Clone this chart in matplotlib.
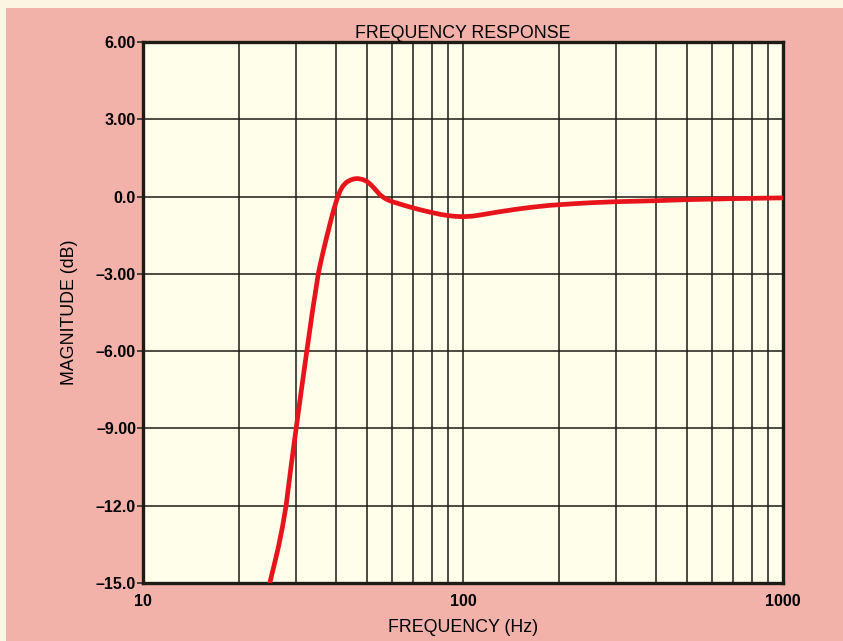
import numpy as np
import matplotlib.pyplot as plt
from matplotlib.patches import Rectangle
from matplotlib.ticker import FixedLocator, NullFormatter

# response curve
freq_hz = [23.8, 24.9, 25.7, 26.5, 27.3, 28.0, 29.0, 30.1, 31.3, 32.5,
           33.9, 34.6, 35.3, 36.0, 36.7, 37.4, 38.1, 38.8, 39.6, 40.5,
           41.3, 42.2, 43.3, 44.5, 45.6, 46.6, 47.4, 48.3, 49.1, 50.0,
           50.9, 51.8, 52.7, 53.7, 54.9, 56.4, 57.6, 59.0, 60.5, 62.0,
           65.5, 69.8, 75.0, 80.0, 85.0, 90.0, 95.0, 100.0, 107.0, 115.0,
           130.0, 147.0, 165.0, 187.0, 220.0, 250.0, 300.0, 400.0, 500.0,
           700.0, 1000.0]
mag_db = [-16.0, -15.0, -14.3, -13.6, -12.8, -12.0, -10.5, -9.0, -7.45, -6.0,
          -4.4, -3.7, -3.0, -2.5, -2.05, -1.63, -1.23, -0.84, -0.44, -0.05,
          0.22, 0.42, 0.56, 0.64, 0.685, 0.70, 0.69, 0.67, 0.64, 0.59,
          0.52, 0.43, 0.33, 0.22, 0.08, -0.03, -0.10, -0.16, -0.21, -0.25,
          -0.34, -0.44, -0.54, -0.62, -0.69, -0.74, -0.77, -0.78, -0.76, -0.70,
          -0.59, -0.49, -0.41, -0.34, -0.28, -0.24, -0.2, -0.16, -0.12,
          -0.08, -0.05]

y_ticks = [-15, -12, -9, -6, -3, 0, 3, 6]
y_labels = ['\u201315.0', '\u201312.0', '\u20139.00', '\u20136.00',
            '\u20133.00', '0.0', '3.00', '6.00']
x_ticks = [10, 100, 1000]
x_labels = ['10', '100', '1000']
x_grid = [20, 30, 40, 50, 60, 70, 80, 90, 200, 300, 400, 500, 600, 700,
          800, 900]

plt.rcParams['font.family'] = ['Liberation Sans', 'DejaVu Sans']

pink = '#f2b2aa'
cream = '#fefeea'
ink = '#1c1c14'

fig = plt.figure(figsize=(8.43, 6.41), dpi=100, facecolor='#fbf6e2')
fig.patches.append(Rectangle((6 / 843, 0), 1, 1 - 8 / 641,
                             transform=fig.transFigure, facecolor=pink,
                             edgecolor='none', zorder=-10))

ax = fig.add_axes([143 / 843, 1 - 583 / 641, 640 / 843, 541 / 641])
ax.set_facecolor(cream)
ax.set_xscale('log')
ax.set_xlim(10, 1000)
ax.set_ylim(-15, 6)

ax.plot(freq_hz, mag_db, color='#e8141c', lw=3.4, solid_capstyle='round',
        solid_joinstyle='round', zorder=3, clip_on=True)

ax.set_yticks(y_ticks)
ax.set_yticklabels(y_labels, fontsize=11.5, fontweight='bold')
ax.set_xticks(x_ticks)
ax.set_xticklabels(x_labels, fontsize=11.5, fontweight='bold')
ax.xaxis.set_minor_locator(FixedLocator(x_grid))
ax.xaxis.set_minor_formatter(NullFormatter())

ax.grid(True, which='both', color=ink, lw=1.1)
ax.set_axisbelow(True)
ax.tick_params(axis='y', length=4, width=1.1, color=ink, pad=1)
ax.tick_params(axis='x', which='both', length=0, pad=8)
for side in ax.spines.values():
    side.set_linewidth(2.4)
    side.set_color(ink)

ax.set_xlabel('FREQUENCY (Hz)', fontsize=12.8, labelpad=7)
ax.set_ylabel('MAGNITUDE (dB)', fontsize=12.8, labelpad=13)
ax.set_title('FREQUENCY RESPONSE', fontsize=12.8, pad=0)

fig.savefig('out.png', dpi=100, facecolor=fig.get_facecolor())
